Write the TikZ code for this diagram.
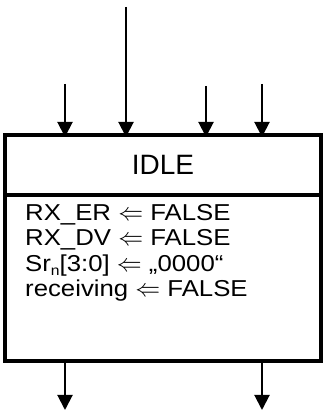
\documentclass[tikz,border=0pt]{standalone}
\usepackage{fontspec}
\setmainfont{Liberation Sans}
\newfontfamily\bodyfont[FakeStretch=1.12]{Liberation Sans}
\usetikzlibrary{arrows.meta}
\usetikzlibrary{positioning}

\begin{document}
\begin{tikzpicture}[x=1pt,y=1pt]
\tikzstyle{state}=[rectangle,draw,line width=4pt,
inner sep=0pt,outer sep=0pt,minimum width=316pt]
\tikzstyle{flow}=[-{Triangle[width=15pt,length=15pt]},line width=2pt]
\useasboundingbox (0,0) rectangle (323,412);
\node[state,minimum height=60pt,font=\fontsize{28}{34}\selectfont] (idle) at (163,247) {IDLE};
\node[state,minimum height=166pt,anchor=north] (actions) at (idle.south) {};
\node[anchor=north west,align=left,inner sep=0pt,font=\bodyfont\fontsize{23}{25.5}\selectfont]
  (assign) at ([xshift=20pt,yshift=-9pt]actions.north west)
  {RX\_ER $\Leftarrow$ FALSE\\
   RX\_DV $\Leftarrow$ FALSE\\
   Sr\raisebox{-4pt}{\fontsize{14}{14}\selectfont n}[3:0] $\Leftarrow$ „0000“\\
   receiving $\Leftarrow$ FALSE};
\coordinate (in1) at (65,328);
\coordinate (in2) at (126,405);
\coordinate (in3) at (206,326);
\coordinate (in4) at (262,328);
\coordinate (out1) at (65,2);
\coordinate (out2) at (262,2);
\foreach \c in {in1,in2,in3,in4}
  \draw[flow,shorten >=-2pt] (\c) -- (\c |- idle.north);
\foreach \c in {out1,out2}
  \draw[flow] (\c |- actions.south) -- (\c);
\end{tikzpicture}
\end{document}
